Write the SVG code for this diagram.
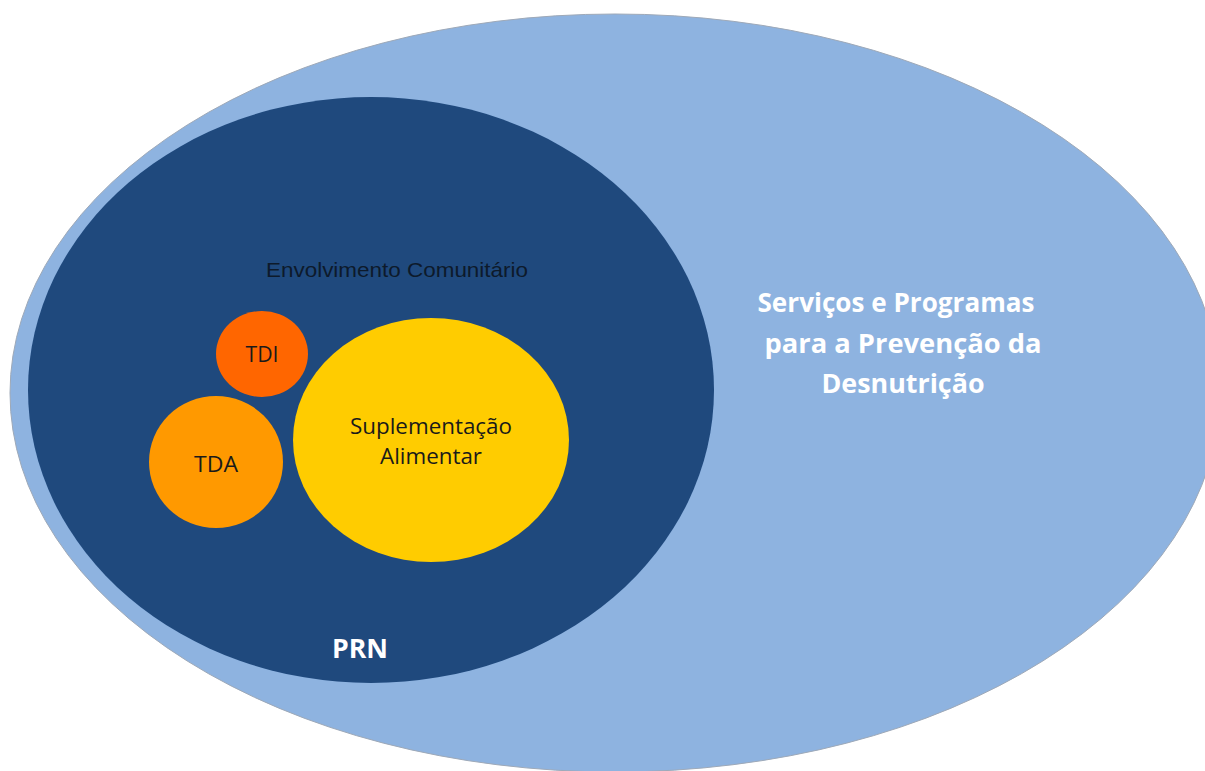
<svg xmlns="http://www.w3.org/2000/svg" width="1205" height="771" viewBox="0 0 1205 771">
<style>
.dark{fill:#1a1a1a;font-family:"Open Sans","Liberation Sans",sans-serif;text-anchor:middle}
.white{fill:#ffffff;font-family:"Open Sans","Liberation Sans",sans-serif;font-weight:bold;text-anchor:middle}
</style>
<rect width="1205" height="771" fill="#ffffff"/>
<g id="servicos">
<ellipse cx="615" cy="393" rx="605" ry="379" fill="#8EB3E0" stroke="#9ea9b8" stroke-width="1"/>
<text class="white" font-size="27" x="896" y="312" textLength="277" lengthAdjust="spacingAndGlyphs">Serviços e Programas</text>
<text class="white" font-size="27" x="903" y="353" textLength="277" lengthAdjust="spacingAndGlyphs">para a Prevenção da</text>
<text class="white" font-size="27" x="903" y="393" textLength="163" lengthAdjust="spacingAndGlyphs">Desnutrição</text>
</g>
<g id="prn">
<ellipse cx="371" cy="390" rx="343" ry="293" fill="#1F497D"/>
<text class="white" font-size="27" x="360" y="658" textLength="56" lengthAdjust="spacingAndGlyphs">PRN</text>
</g>
<g id="envolvimento">
<text font-family="'Liberation Sans',sans-serif" font-size="21" fill="#0d1a2b" x="266" y="277" textLength="262" lengthAdjust="spacingAndGlyphs">Envolvimento Comunitário</text>
</g>
<g id="tdi">
<ellipse cx="262" cy="354" rx="46" ry="43" fill="#FF6600"/>
<text class="dark" font-size="22" x="262" y="362" textLength="33" lengthAdjust="spacingAndGlyphs">TDI</text>
</g>
<g id="tda">
<ellipse cx="216" cy="462" rx="67" ry="66" fill="#FF9900"/>
<text class="dark" font-size="22" x="216" y="472" textLength="44" lengthAdjust="spacingAndGlyphs">TDA</text>
</g>
<g id="suplementacao">
<ellipse cx="431" cy="440" rx="138" ry="122" fill="#FFCC00"/>
<text class="dark" font-size="22" x="431" y="434" textLength="162" lengthAdjust="spacingAndGlyphs">Suplementação</text>
<text class="dark" font-size="22" x="431" y="464" textLength="102" lengthAdjust="spacingAndGlyphs">Alimentar</text>
</g>
<g id="connectors"/>
</svg>
